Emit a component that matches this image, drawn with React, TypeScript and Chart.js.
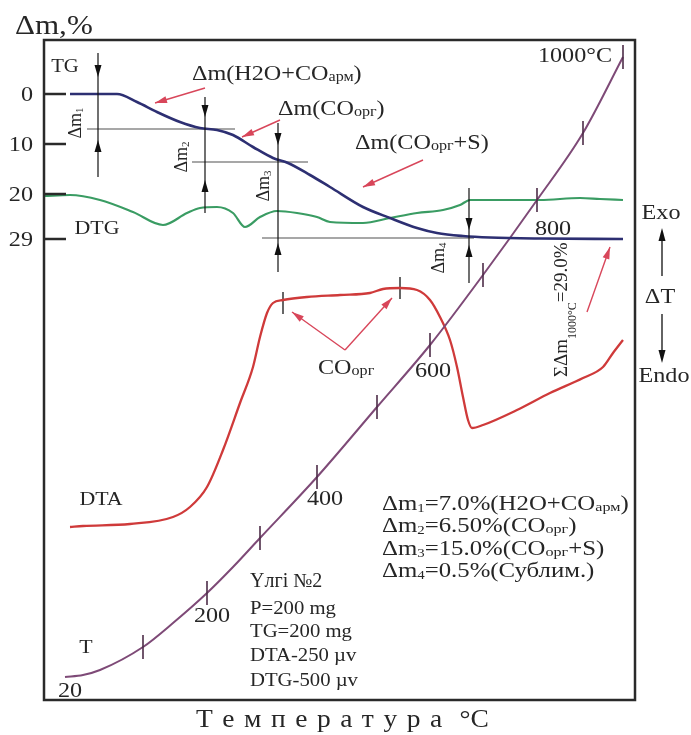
import React, { useEffect, useRef } from 'react';
import { Chart, registerables } from 'chart.js';

Chart.register(...registerables);

// x: relative scan position (arbitrary units), y: Δm scale (%, downwards)
const tgX = [5.2, 14.6, 18.6, 22.6, 27.2, 31.2, 34.6, 37.8, 41.8, 45.8, 48.8, 53.2, 57.2, 63.8, 69.2, 74.6, 78.6, 83.8, 89.2, 99.2, 115.8];
const tgY = [0, 0, 1.6, 3.6, 5.6, 6.8, 7.2, 8.2, 10.6, 12.8, 13.8, 16.2, 18.6, 22.6, 24.8, 26.8, 27.8, 28.4, 28.7, 28.9, 29];

const dtgX = [0, 5.2, 11.2, 17.8, 23.8, 28.6, 31.2, 34.6, 37.8, 40.2, 43.2, 46.6, 50.6, 54.6, 57.2, 63.8, 69.2, 74.6, 79.8, 83.2, 85.2, 91.2, 99.2, 107.2, 111.2, 115.8];
const dtgY = [20.4, 20.2, 21.2, 23.6, 26.2, 23.8, 22.8, 22.6, 23.8, 26.6, 24.6, 23.4, 23.8, 24.6, 25.6, 25.8, 24.8, 23.8, 23.2, 22.2, 21.2, 21.2, 21.2, 20.8, 21.0, 21.2];

const dtaX = [5.2, 7.8, 17.2, 25.8, 29.2, 32.6, 35.8, 39.2, 41.8, 43.2, 44.6, 45.8, 47.8, 52.6, 59.2, 65.2, 67.8, 71.2, 74.6, 77.2, 79.2, 81.2, 82.6, 83.8, 84.8, 85.6, 87.8, 94.6, 101.2, 107.8, 111.8, 113.8, 115.8];
const dtaY = [86.6, 86.4, 86.0, 84.6, 82.6, 78.6, 71.2, 61.8, 54.6, 48.6, 43.8, 41.8, 41.2, 40.6, 40.2, 39.8, 39.0, 38.8, 39.2, 41.2, 44.6, 49.2, 54.6, 60.6, 65.2, 66.8, 66.2, 63.2, 59.8, 56.8, 54.6, 51.8, 49.2];

const tX = [4.2, 7.8, 11.2, 19.8, 25.8, 32.6, 37.8, 43.2, 54.6, 66.6, 77.2, 87.8, 98.6, 107.8, 115.8];
const tY = [116.6, 116.2, 115.2, 110.6, 105.8, 99.8, 94.6, 88.8, 76.6, 62.6, 50.2, 36.2, 21.2, 7.8, -7.4];
const tIsTick = [false, false, false, true, false, true, false, true, true, true, true, true, true, true, true];

const dtaMarkX = [47.8, 71.2];
const dtaMarkY = [41.8, 38.8];

const tgTicks = [0, 10, 20, 29];
const tLabels = ['20', '200', '400', '600', '800', '1000°C'];
const tLabelX = [5.2, 33.6, 56.2, 77.8, 101.8, 106.2];
const tLabelY = [119.2, 104.2, 80.8, 55.2, 26.8, -7.8];

// Δm step markers (x, line top, line bottom, down-arrow tip, up-arrow tip, label x, label y)
const dmArrows = [
  { n: '1', x: 10.8, top: -8.2, bottom: 16.6, down: -3.4, up: 9.2, lx: 6.2, ly: 5.8 },
  { n: '2', x: 32.2, top: 0.6, bottom: 23.8, down: 4.6, up: 17.2, lx: 27.4, ly: 12.6 },
  { n: '3', x: 46.8, top: 5.8, bottom: 35.6, down: 10.2, up: 29.8, lx: 43.8, ly: 18.4 },
  { n: '4', x: 85.0, top: 18.8, bottom: 37.8, down: 27.2, up: 30.2, lx: 78.8, ly: 32.8 },
];
const levelLines = [
  { y: 7.0, from: 8.6, to: 38.2 },
  { y: 13.6, from: 29.6, to: 52.8 },
  { y: 28.8, from: 43.6, to: 86.0 },
];
const redArrows = [
  [32.2, -1.2, 22.2, 1.8],
  [47.2, 5.2, 39.6, 8.6],
  [75.8, 13.2, 63.8, 18.6],
  [108.6, 43.6, 113.2, 30.6],
  [60.2, 51.2, 49.6, 43.6],
  [60.2, 51.2, 69.6, 40.8],
];

const SERIF = '"Liberation Serif", "Times New Roman", serif';
const SX = 1.15;
const TXT = '#262626';
const RED = '#d8465a';

type Seg = { t: string; s: number; dy?: number };

function rich(ctx: CanvasRenderingContext2D, segs: Seg[], x: number, y: number, align: string, sx: number, color = TXT) {
  let total = 0;
  const ws = segs.map((g) => {
    ctx.font = `${g.s}px ${SERIF}`;
    const w = ctx.measureText(g.t).width * sx;
    total += w;
    return w;
  });
  let cx = align === 'center' ? x - total / 2 : align === 'right' ? x - total : x;
  const main = Math.max(...segs.map((g) => g.s));
  const base = y + main * 0.33;
  ctx.fillStyle = color;
  ctx.textAlign = 'left';
  ctx.textBaseline = 'alphabetic';
  segs.forEach((g, i) => {
    ctx.font = `${g.s}px ${SERIF}`;
    ctx.save();
    ctx.translate(cx, base + (g.dy || 0));
    ctx.scale(sx, 1);
    ctx.fillText(g.t, 0, 0);
    ctx.restore();
    cx += ws[i];
  });
}

function head(ctx: CanvasRenderingContext2D, x: number, y: number, dx: number, dy: number, len: number, half: number) {
  const l = Math.hypot(dx, dy);
  const ux = dx / l, uy = dy / l;
  const bx = x - ux * len, by = y - uy * len;
  ctx.beginPath();
  ctx.moveTo(x, y);
  ctx.lineTo(bx - uy * half, by + ux * half);
  ctx.lineTo(bx + uy * half, by - ux * half);
  ctx.closePath();
  ctx.fill();
}

const deco = {
  id: 'deco',
  beforeDatasetsDraw(chart: any) {
    const ctx: CanvasRenderingContext2D = chart.ctx;
    const xs = chart.scales.x, ys = chart.scales.y;
    ctx.save();
    ctx.strokeStyle = '#8a8a8a';
    ctx.lineWidth = 1.6;
    levelLines.forEach((l) => {
      const py = ys.getPixelForValue(l.y);
      ctx.beginPath();
      ctx.moveTo(xs.getPixelForValue(l.from), py);
      ctx.lineTo(xs.getPixelForValue(l.to), py);
      ctx.stroke();
    });
    ctx.restore();
  },
  afterDatasetsDraw(chart: any) {
    const ctx: CanvasRenderingContext2D = chart.ctx;
    const xs = chart.scales.x, ys = chart.scales.y;
    const a = chart.chartArea;
    const px = (v: number) => xs.getPixelForValue(v);
    const py = (v: number) => ys.getPixelForValue(v);
    ctx.save();

    // frame
    ctx.strokeStyle = '#2a2a2a';
    ctx.lineWidth = 2.5;
    ctx.strokeRect(a.left, a.top, a.right - a.left, a.bottom - a.top);

    // TG axis ticks and labels
    tgTicks.forEach((t) => {
      const y = py(t);
      ctx.beginPath();
      ctx.moveTo(a.left, y);
      ctx.lineTo(a.left + 22, y);
      ctx.stroke();
      rich(ctx, [{ t: String(t), s: 21 }], a.left - 11, y, 'right', SX);
    });

    // Δm step arrows
    ctx.strokeStyle = '#111';
    ctx.fillStyle = '#111';
    ctx.lineWidth = 1.2;
    dmArrows.forEach((d) => {
      const x = px(d.x);
      ctx.beginPath();
      ctx.moveTo(x, py(d.top));
      ctx.lineTo(x, py(d.bottom));
      ctx.stroke();
      ctx.fillStyle = '#111';
      head(ctx, x, py(d.down), 0, 1, 12, 3.5);
      head(ctx, x, py(d.up), 0, -1, 12, 3.5);
      ctx.save();
      ctx.translate(px(d.lx), py(d.ly));
      ctx.rotate(-Math.PI / 2);
      rich(ctx, [{ t: 'Δm', s: 18 }, { t: d.n, s: 11, dy: 2 }], 0, 0, 'center', 1);
      ctx.restore();
    });

    // red pointer arrows
    ctx.strokeStyle = RED;
    ctx.fillStyle = RED;
    ctx.lineWidth = 1.4;
    redArrows.forEach(([x1, y1, x2, y2]) => {
      const ax = px(x1), ay = py(y1), bx = px(x2), by = py(y2);
      ctx.beginPath();
      ctx.moveTo(ax, ay);
      ctx.lineTo(bx, by);
      ctx.stroke();
      head(ctx, bx, by, bx - ax, by - ay, 12, 3.5);
    });

    // curve labels
    rich(ctx, [{ t: 'TG', s: 18 }], px(4.2), py(-5.6), 'center', SX);
    rich(ctx, [{ t: 'DTG', s: 19 }], px(10.6), py(26.8), 'center', SX);
    rich(ctx, [{ t: 'DTA', s: 19 }], px(11.4), py(81), 'center', SX);
    rich(ctx, [{ t: 'T', s: 19 }], px(8.4), py(110.6), 'center', SX);

    // T scale labels
    tLabels.forEach((l, i) => rich(ctx, [{ t: l, s: 21 }], px(tLabelX[i]), py(tLabelY[i]), 'center', SX));

    // process labels
    rich(ctx, [{ t: 'Δm(H2O+CO', s: 21 }, { t: 'арм', s: 14, dy: 1 }, { t: ')', s: 21 }], px(29.6), py(-4.2), 'left', SX);
    rich(ctx, [{ t: 'Δm(CO', s: 21 }, { t: 'орг', s: 14, dy: 1 }, { t: ')', s: 21 }], px(46.8), py(2.8), 'left', SX);
    rich(ctx, [{ t: 'Δm(CO', s: 21 }, { t: 'орг', s: 14, dy: 1 }, { t: '+S)', s: 21 }], px(62.2), py(9.6), 'left', SX);
    rich(ctx, [{ t: 'CO', s: 21 }, { t: 'орг', s: 14, dy: 1 }], px(54.8), py(54.6), 'left', SX);

    // summary block
    const block: Seg[][] = [
      [{ t: 'Δm', s: 20 }, { t: '1', s: 12, dy: 2 }, { t: '=7.0%(H2O+CO', s: 20 }, { t: 'арм', s: 13, dy: 1 }, { t: ')', s: 20 }],
      [{ t: 'Δm', s: 20 }, { t: '2', s: 12, dy: 2 }, { t: '=6.50%(CO', s: 20 }, { t: 'орг', s: 13, dy: 1 }, { t: ')', s: 20 }],
      [{ t: 'Δm', s: 20 }, { t: '3', s: 12, dy: 2 }, { t: '=15.0%(CO', s: 20 }, { t: 'орг', s: 13, dy: 1 }, { t: '+S)', s: 20 }],
      [{ t: 'Δm', s: 20 }, { t: '4', s: 12, dy: 2 }, { t: '=0.5%(Сублим.)', s: 20 }],
    ];
    const blockY = [81.8, 86.2, 90.8, 95.2];
    block.forEach((segs, i) => rich(ctx, segs, px(67.6), py(blockY[i]), 'left', 1.24));

    rich(ctx, [{ t: 'Үлгі №2', s: 20 }], px(41.2), py(97.2), 'left', 1);
    const params = ['P=200 mg', 'TG=200 mg', 'DTA-250 µv', 'DTG-500 µv'];
    const paramY = [102.8, 107.4, 112.2, 117.2];
    params.forEach((p, i) => rich(ctx, [{ t: p, s: 18 }], px(41.2), py(paramY[i]), 'left', SX));

    // total mass loss (rotated)
    ctx.save();
    ctx.translate(px(103.4), py(56.6));
    ctx.rotate(-Math.PI / 2);
    rich(ctx, [{ t: 'ΣΔm', s: 19 }, { t: '1000°C', s: 12, dy: 9 }, { t: '=29.0%', s: 19 }], 0, 0, 'left', 1);
    ctx.restore();

    // outside texts
    rich(ctx, [{ t: 'Δm,%', s: 27 }], 15, 25, 'left', SX);
    const rx = a.right + 26;
    rich(ctx, [{ t: 'Exo', s: 21 }], rx, 212, 'center', SX);
    rich(ctx, [{ t: 'ΔT', s: 21 }], rx - 1, 296, 'center', SX);
    rich(ctx, [{ t: 'Endo', s: 21 }], rx + 3, 375, 'center', SX);
    ctx.strokeStyle = '#111';
    ctx.fillStyle = '#111';
    ctx.lineWidth = 1.3;
    ctx.beginPath();
    ctx.moveTo(rx + 1, 276);
    ctx.lineTo(rx + 1, 236);
    ctx.moveTo(rx + 1, 314);
    ctx.lineTo(rx + 1, 356);
    ctx.stroke();
    head(ctx, rx + 1, 228, 0, -1, 13, 3.5);
    head(ctx, rx + 1, 363, 0, 1, 13, 3.5);

    // x-axis title (letter-spaced)
    const word = 'Температура';
    ctx.font = `25px ${SERIF}`;
    const ls = 9.5;
    const sx2 = 1.1;
    let w = 0;
    for (const ch of word) w += ctx.measureText(ch).width * sx2 + ls;
    const tail = '°C';
    const tw = ctx.measureText(tail).width * sx2;
    const total = w + 8 + tw;
    let cx = (a.left + a.right) / 2 - total / 2 + 3;
    ctx.fillStyle = TXT;
    ctx.textBaseline = 'alphabetic';
    for (const ch of word) {
      ctx.save();
      ctx.translate(cx, 727);
      ctx.scale(sx2, 1);
      ctx.fillText(ch, 0, 0);
      ctx.restore();
      cx += ctx.measureText(ch).width * sx2 + ls;
    }
    cx += 8;
    ctx.save();
    ctx.translate(cx, 727);
    ctx.scale(sx2, 1);
    ctx.fillText(tail, 0, 0);
    ctx.restore();

    ctx.restore();
  },
};

const pts = (xs: number[], ys: number[]) => xs.map((x, i) => ({ x, y: ys[i] }));

export default function App() {
  const ref = useRef<HTMLCanvasElement>(null);
  useEffect(() => {
    const chart = new Chart(ref.current as HTMLCanvasElement, {
      type: 'line',
      data: {
        datasets: [
          {
            label: 'TG',
            data: pts(tgX, tgY),
            borderColor: '#2d2f72',
            borderWidth: 2.6,
            pointRadius: 0,
            cubicInterpolationMode: 'monotone',
          },
          {
            label: 'T',
            data: pts(tX, tY),
            borderColor: '#7e4a77',
            borderWidth: 2,
            pointStyle: 'line',
            pointRotation: 90,
            pointRadius: tIsTick.map((b) => (b ? 12 : 0)),
            pointBorderColor: '#4d2c48',
            pointBorderWidth: 1.6,
            cubicInterpolationMode: 'monotone',
          },
          {
            label: 'DTG',
            data: pts(dtgX, dtgY),
            borderColor: '#3a9c63',
            borderWidth: 2.2,
            pointRadius: 0,
            cubicInterpolationMode: 'monotone',
          },
          {
            label: 'DTA',
            data: pts(dtaX, dtaY),
            borderColor: '#cf3a3a',
            borderWidth: 2.3,
            pointRadius: 0,
            cubicInterpolationMode: 'monotone',
          },
          {
            label: 'marks',
            data: pts(dtaMarkX, dtaMarkY),
            showLine: false,
            pointStyle: 'line',
            pointRotation: 90,
            pointRadius: 11,
            pointBorderColor: '#333',
            pointBorderWidth: 1.5,
          },
        ],
      } as any,
      options: {
        responsive: false,
        animation: false,
        devicePixelRatio: 1,
        layout: { autoPadding: false, padding: { left: 44, top: 40, right: 56, bottom: 35 } },
        plugins: { legend: { display: false }, tooltip: { enabled: false }, title: { display: false } },
        events: [],
        scales: {
          x: { type: 'linear', display: false, min: 0, max: 118.2 },
          y: { type: 'linear', display: false, reverse: true, min: -10.8, max: 121.2 },
        },
      } as any,
      plugins: [deco],
    });
    return () => chart.destroy();
  }, []);
  return (
    <div style={{ position: 'absolute', left: 0, top: 0, width: 691, height: 735, background: '#fff' }}>
      <canvas ref={ref} width={691} height={735} style={{ display: 'block', width: 691, height: 735 }} />
    </div>
  );
}
